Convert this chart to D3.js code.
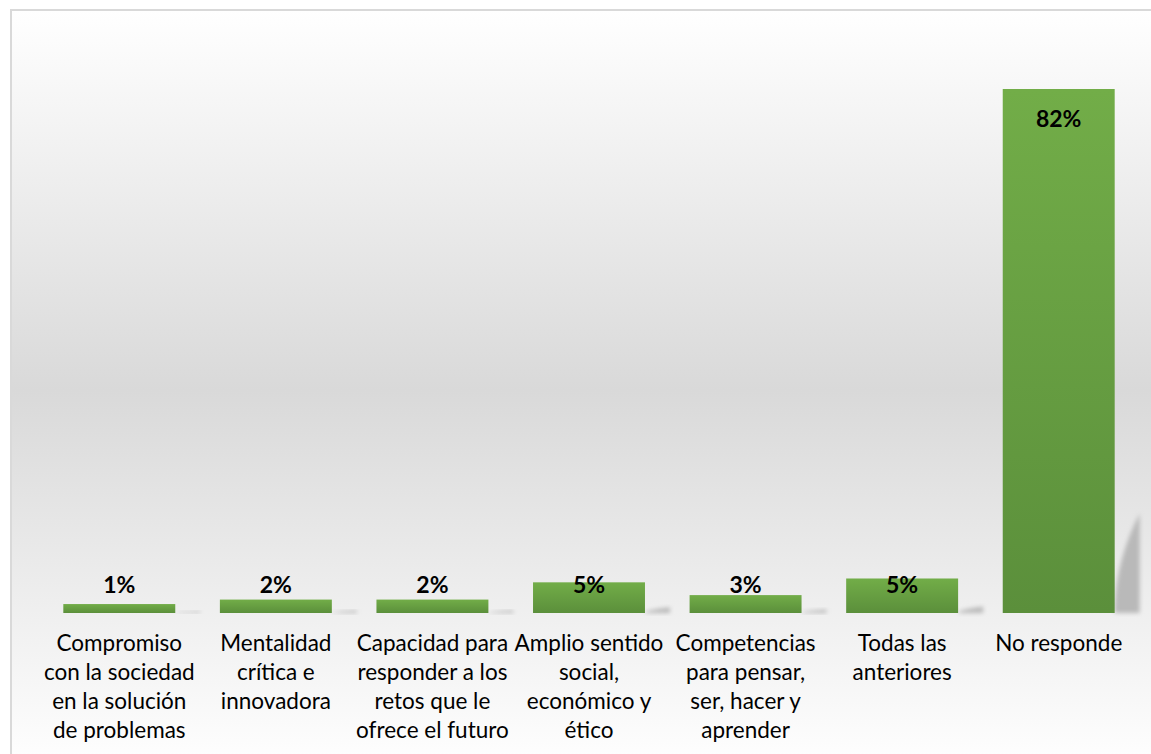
<!DOCTYPE html>
<html>
<head>
<meta charset="utf-8">
<script src="https://cdn.jsdelivr.net/npm/d3@7"></script>
<style>
  html, body { margin: 0; padding: 0; background: #ffffff; }
  svg { display: block; }
</style>
</head>
<body>
<div id="chart"></div>
<script>
// ---- Data ----
const categories = [
  "Compromiso\ncon la sociedad\nen la solución\nde problemas",
  "Mentalidad\ncrítica e\ninnovadora",
  "Capacidad para\nresponder a los\nretos que le\nofrece el futuro",
  "Amplio sentido\nsocial,\neconómico y\nético",
  "Competencias\npara pensar,\nser, hacer y\naprender",
  "Todas las\nanteriores",
  "No responde"
];
const values = [0.014, 0.021, 0.021, 0.048, 0.028, 0.054, 0.82];
const valueLabels = ["1%", "2%", "2%", "5%", "3%", "5%", "82%"];

// ---- Layout ----
const W = 1151, H = 754;
const baseY = 613;

const svg = d3.select("#chart").append("svg")
  .attr("width", W).attr("height", H);

const defs = svg.append("defs");

const bg = defs.append("linearGradient").attr("id", "bgGrad")
  .attr("x1", 0).attr("y1", 0).attr("x2", 0).attr("y2", 1);
bg.append("stop").attr("offset", "0%").attr("stop-color", "#ffffff");
bg.append("stop").attr("offset", "50%").attr("stop-color", "#d9d9d9");
bg.append("stop").attr("offset", "100%").attr("stop-color", "#ffffff");

const barGrad = defs.append("linearGradient").attr("id", "barGrad")
  .attr("x1", 0).attr("y1", 0).attr("x2", 0).attr("y2", 1);
barGrad.append("stop").attr("offset", "0%").attr("stop-color", "#72ad48");
barGrad.append("stop").attr("offset", "100%").attr("stop-color", "#5b8f3b");

const blur = defs.append("filter").attr("id", "blur")
  .attr("x", "-50%").attr("y", "-50%").attr("width", "200%").attr("height", "200%");
blur.append("feGaussianBlur").attr("stdDeviation", 2);

// Chart area background + border
svg.append("rect")
  .attr("x", 11).attr("y", 10)
  .attr("width", 1160).attr("height", 760)
  .attr("fill", "url(#bgGrad)")
  .attr("stroke", "#d9d9d9").attr("stroke-width", 2);

// ---- Scales ----
const x = d3.scaleBand()
  .domain(categories)
  .range([41, 1137])
  .paddingInner(0.285)
  .paddingOuter(0.1425);

const y = d3.scaleLinear()
  .domain([0, 0.9])
  .range([baseY, baseY - 0.9 * (524 / 0.82)]);

const data = categories.map((c, i) => ({ c, v: values[i], label: valueLabels[i] }));

// Shadows (perspective-like, to the right of each bar)
const shadowG = svg.append("g");
shadowG.selectAll("path").data(data).join("path")
  .attr("d", d => {
    const x1 = x(d.c) + x.bandwidth();
    const h = (baseY - y(d.v)) * 0.19;
    const w = 25;
    return `M${x1},${baseY} L${x1 + w},${baseY} L${x1 + w},${baseY - h} Q${x1 + 2},${baseY - h * 0.55} ${x1},${baseY - h * 0.08} Z`;
  })
  .attr("fill", "#b9b9b9")
  .attr("filter", "url(#blur)");

// Bars
svg.append("g").selectAll("rect").data(data).join("rect")
  .attr("x", d => x(d.c))
  .attr("y", d => y(d.v))
  .attr("width", x.bandwidth())
  .attr("height", d => baseY - y(d.v))
  .attr("fill", "url(#barGrad)");

// Value labels
svg.append("g").selectAll("text").data(data).join("text")
  .attr("x", d => x(d.c) + x.bandwidth() / 2)
  .attr("y", d => Math.min(y(d.v) + 38, 593))
  .attr("text-anchor", "middle")
  .attr("font-family", "Lato, 'Open Sans', sans-serif")
  .attr("font-weight", "bold")
  .attr("font-size", 23)
  .attr("fill", "#000000")
  .text(d => d.label);

// Category labels (axis without line/ticks)
const xAxis = d3.axisBottom(x).tickSize(0).tickFormat(() => "");
const axisG = svg.append("g").attr("transform", `translate(0,${baseY})`).call(xAxis);
axisG.select(".domain").remove();

axisG.selectAll(".tick").each(function(d) {
  const t = d3.select(this).append("text")
    .attr("text-anchor", "middle")
    .attr("font-family", "Lato, 'Open Sans', sans-serif")
    .attr("font-size", 22.5)
    .attr("fill", "#000000");
  d.split("\n").forEach((line, i) => {
    t.append("tspan").attr("x", 0).attr("y", 38 + i * 29).text(line);
  });
});
</script>
</body>
</html>
